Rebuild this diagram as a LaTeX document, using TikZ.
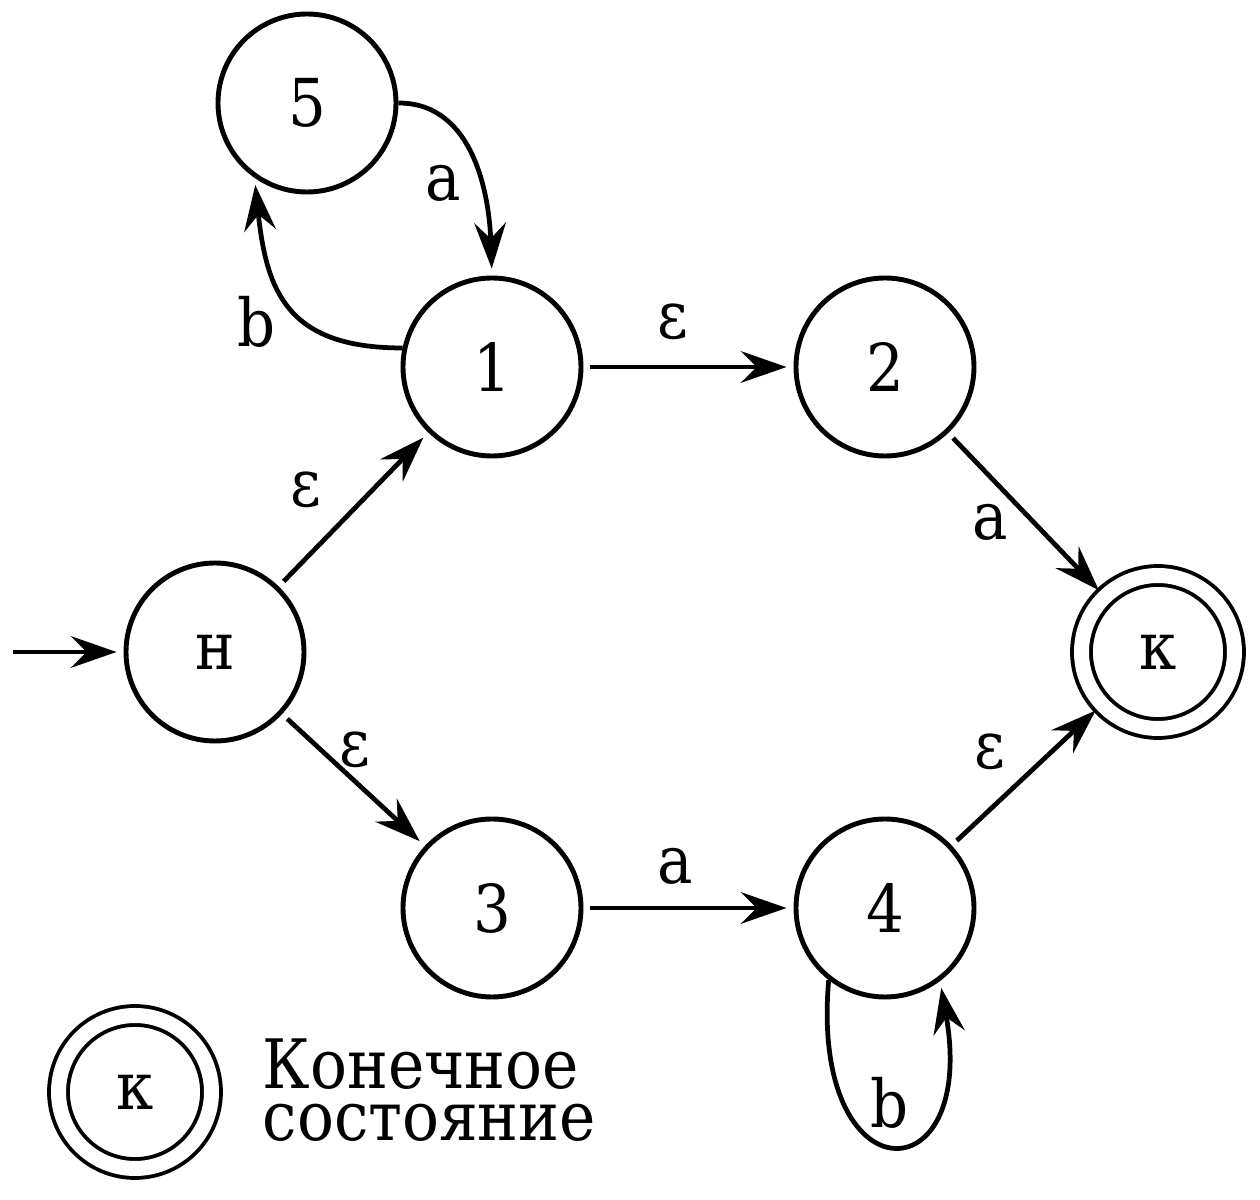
\documentclass[tikz,border=0pt]{standalone}
\usepackage{fontspec}
\setmainfont{DejaVu Serif Condensed}
\usetikzlibrary{arrows.meta}
\begin{document}
\begin{tikzpicture}[
	state/.style={circle, draw, line width=1.4pt, minimum size=1.78cm, inner sep=0pt},
	final/.style={state, double=white, double distance=0.15cm, minimum size=1.53cm, line width=1.1pt},
	edge/.style={line width=1.35pt, -{Stealth[length=13pt, width=9pt, inset=4.5pt]}, shorten >=2pt, shorten <=2pt},
	lbl/.style={inner sep=0pt}
	]
	\useasboundingbox (0,0) rectangle (12.6,12);
	\tikzset{every node/.style={font=\fontsize{18.8}{20}\selectfont}}
	
	%states
	\node[state] (nh) at (2.15, 5.48){н};
	\node[state] (n1) at (4.92, 8.33){1};
	\node[state] (n2) at (8.85, 8.33){2};
	\node[state] (n5) at (3.07, 10.97){5};
	\node[state] (n3) at (4.92, 2.92){3};
	\node[state] (n4) at (8.85, 2.92){4};
	\node[final] (nk) at (11.58, 5.48){к};
	
	%start
	\coordinate (st) at (0.13, 5.48);
	\draw[edge, shorten <=0pt] (st) -- (nh);
	
	%transitions
	\draw[edge] (nh) -- (n1);
	\draw[edge] (nh) -- (n3);
	\draw[edge] (n1) -- (n2);
	\draw[edge] (n3) -- (n4);
	\draw[edge] (n2) -- (nk);
	\draw[edge] (n4) -- (nk);
	\draw[edge, shorten <=0pt] (n5.east) to[out=0, in=92] (n1.north);
	\draw[edge, shorten <=0pt] (n1.168) to[out=180, in=-84, looseness=1.3] (n5.235);
	\draw[edge, shorten <=0pt] (n4.232) .. controls +(-95:2.2) and +(-80:2.2) .. (n4.307);
	
	%labels
	\node[lbl] (le1) at (3.06, 7.1){ε};
	\node[lbl] (la1) at (4.43, 10.17){a};
	\node[lbl] (lb1) at (2.57, 8.78){b};
	\node[lbl] (le2) at (6.73, 8.78){ε};
	\node[lbl] (la2) at (9.9, 6.78){a};
	\node[lbl] (le3) at (3.55, 4.5){ε};
	\node[lbl] (la3) at (6.75, 3.34){a};
	\node[lbl] (le4) at (9.9, 4.48){ε};
	\node[lbl] (lb2) at (8.9, 0.97){b};
	
	%legend
	\node[final] (lk) at (1.35, 1.08){к};
	\node[lbl, anchor=west, align=left, font=\fontsize{19.4}{15}\selectfont] (ltxt) at (2.62, 1.1){Конечное\\состояние};
\end{tikzpicture}
\end{document}
